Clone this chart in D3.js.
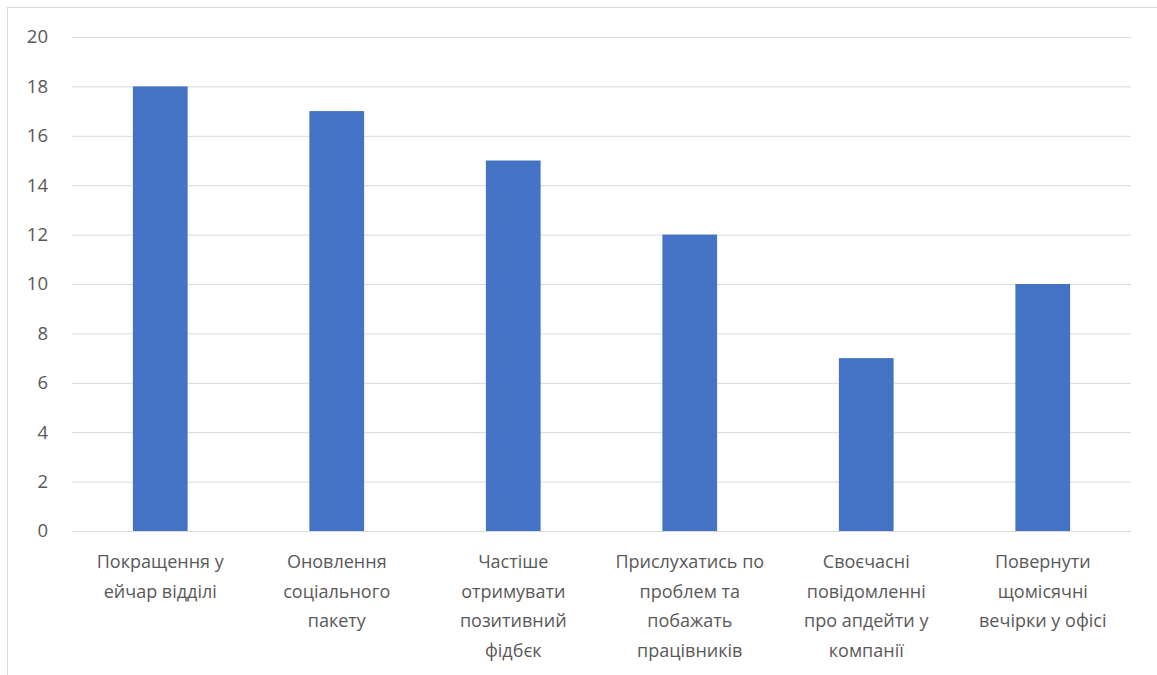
<!DOCTYPE html>
<html>
<head>
<meta charset="utf-8">
<script src="https://cdn.jsdelivr.net/npm/d3@7"></script>
<style>
  html, body { margin: 0; padding: 0; background: #fff; }
  svg { display: block; }
</style>
</head>
<body>
<svg id="chart" width="1157" height="675"></svg>
<script>
// Survey answers: suggested improvements and how many people chose each
const categories = [
  ["Покращення у", "ейчар відділі"],
  ["Оновлення", "соціального", "пакету"],
  ["Частіше", "отримувати", "позитивний", "фідбєк"],
  ["Прислухатись по", "проблем та", "побажать", "працівників"],
  ["Своєчасні", "повідомленні", "про апдейти у", "компанії"],
  ["Повернути", "щомісячні", "вечірки у офісі"]
];
const values = [18, 17, 15, 12, 7, 10];
const yTicks = [0, 2, 4, 6, 8, 10, 12, 14, 16, 18, 20];

const svg = d3.select("#chart");
const W = 1157, H = 675;
const margin = { left: 72, right: 26, top: 37, bottom: 144 };

// outer chart frame (runs past the right and bottom edges)
svg.append("rect")
  .attr("x", 7.5).attr("y", 7.5)
  .attr("width", W + 20).attr("height", H + 20)
  .attr("fill", "#fff").attr("stroke", "#d9d9d9").attr("stroke-width", 1);

const x = d3.scaleBand()
  .domain(d3.range(categories.length))
  .range([margin.left, W - margin.right])
  .paddingInner(0.69).paddingOuter(0.345);

const y = d3.scaleLinear()
  .domain([0, 20])
  .range([H - margin.bottom, margin.top]);

const font = "'Open Sans', 'Noto Sans', sans-serif";

// horizontal gridlines and y labels
const yAxis = d3.axisLeft(y).tickValues(yTicks)
  .tickSize(-(W - margin.right - margin.left)).tickPadding(24);
const gy = svg.append("g")
  .attr("transform", `translate(${margin.left},0)`)
  .call(yAxis);
gy.select(".domain").remove();
gy.selectAll(".tick line").attr("stroke", "#d9d9d9").attr("stroke-width", 1);
gy.selectAll(".tick text")
  .attr("fill", "#595959")
  .style("font-family", font).style("font-size", "18.5px");

// bars
svg.append("g").selectAll("rect")
  .data(values)
  .join("rect")
  .attr("x", (d, i) => x(i))
  .attr("width", x.bandwidth())
  .attr("y", d => y(d))
  .attr("height", d => y(0) - y(d))
  .attr("fill", "#4472c4");

// baseline
svg.append("line")
  .attr("x1", margin.left).attr("x2", W - margin.right)
  .attr("y1", y(0) + 0.5).attr("y2", y(0) + 0.5)
  .attr("stroke", "#d9d9d9").attr("stroke-width", 1);

// category labels, wrapped
const lab = svg.append("g").selectAll("text")
  .data(categories)
  .join("text")
  .attr("x", (d, i) => x(i) + x.bandwidth() / 2)
  .attr("y", y(0) + 37)
  .attr("text-anchor", "middle")
  .attr("fill", "#595959")
  .style("font-family", font).style("font-size", "18px");
lab.selectAll("tspan")
  .data(d => d)
  .join("tspan")
  .attr("x", function () { return this.parentNode.getAttribute("x"); })
  .attr("dy", (d, i) => i === 0 ? 0 : 29.5)
  .text(d => d);
</script>
</body>
</html>
